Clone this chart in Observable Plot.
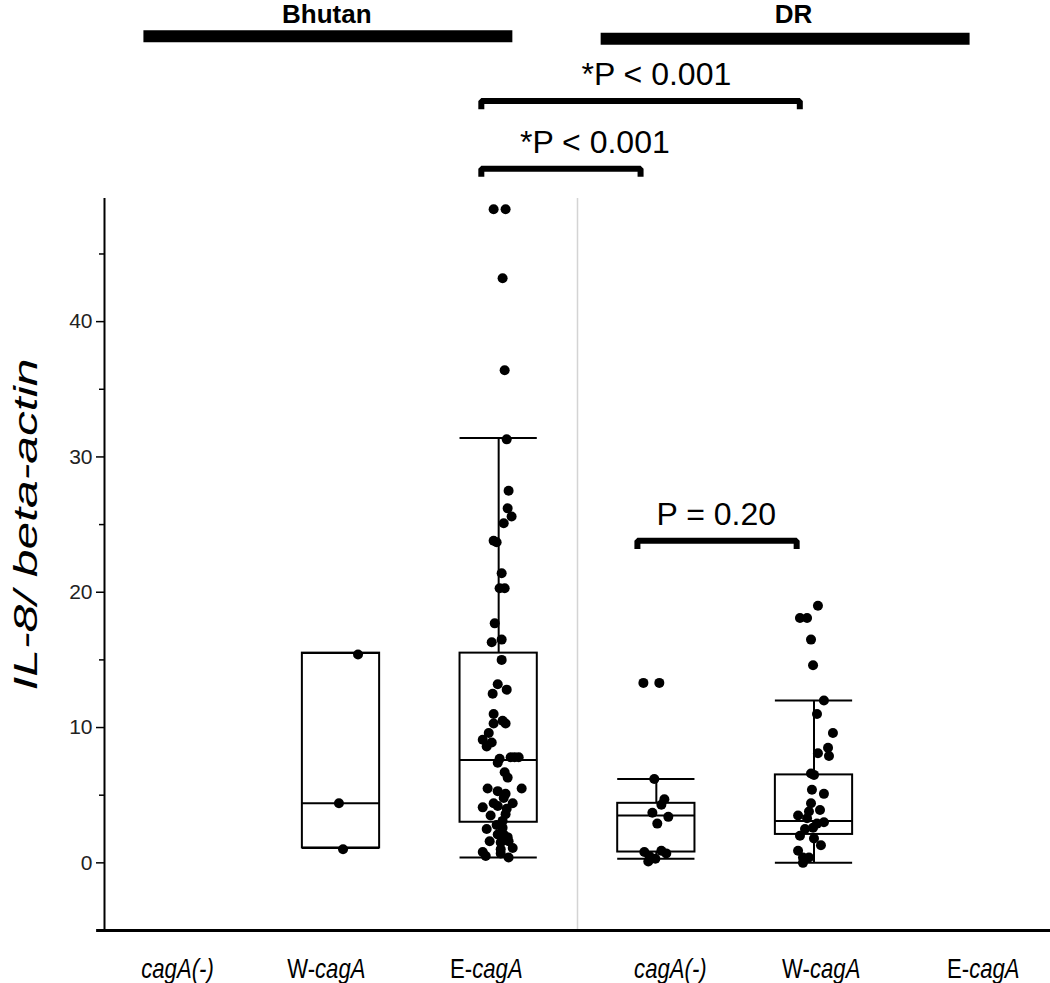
<!DOCTYPE html>
<html><head><meta charset="utf-8">
<script src="https://cdn.jsdelivr.net/npm/d3@7"></script>
<script src="https://cdn.jsdelivr.net/npm/@observablehq/plot@0.6"></script>
<style>body{margin:0;background:#fff} svg{display:block}</style>
</head><body><div id="chart"></div>
<script>
// ---- data ----
const categories = ["cagA(-)", "W-cagA", "E-cagA", "cagA(-)", "W-cagA", "E-cagA"];
const countries = ["Bhutan", "DR"];
const countryFrom = [-0.25, 2.65];
const countryTo = [2.09, 4.99];
const countryLabelX = [0.91, 3.87];
const yTicks = [0, 10, 20, 30, 40];
const yMinorTicks = [5, 15, 25, 35, 45];
const yLabel = "IL-8/ beta-actin";

// box statistics (category index, whisker low, Q1, median, Q3, whisker high)
const boxCategory = [1, 2, 3, 4];
const boxLow = [1.1, 0.4, 0.3, 0.0];
const boxQ1 = [1.1, 3.0, 0.8, 2.1];
const boxMedian = [4.4, 7.6, 3.5, 3.1];
const boxQ3 = [15.5, 15.5, 4.4, 6.5];
const boxHigh = [15.5, 31.4, 6.2, 12.0];

// individual samples: [IL-8/beta-actin, horizontal jitter in category units]
const bhutanW = [[15.4, 0.108], [4.4, -0.013], [1.0, 0.013]];
const bhutanE = [
  [48.3, -0.032], [48.3, 0.044], [43.2, 0.025], [36.4, 0.038], [31.3, 0.051],
  [27.5, 0.063], [26.2, 0.057], [25.6, 0.082], [25.1, 0.032], [23.7, -0.013],
  [23.8, -0.032], [21.4, 0.019], [20.3, 0.006], [20.3, 0.038], [17.7, -0.025],
  [16.5, 0.019], [16.3, -0.044], [15.0, 0.019], [13.2, -0.006], [12.5, -0.038],
  [12.8, 0.051], [11.0, -0.032], [10.5, 0.025], [10.3, 0.044], [10.3, -0.032],
  [9.6, -0.063], [9.1, -0.101], [8.9, -0.044], [8.6, -0.076], [7.7, 0.006],
  [7.4, -0.006], [7.8, 0.076], [7.8, 0.101], [7.8, 0.127], [6.7, 0.038],
  [6.3, 0.057], [5.5, -0.070], [5.3, -0.006], [5.1, 0.044], [5.5, 0.146],
  [4.8, 0.032], [4.4, -0.032], [4.4, 0.089], [4.1, -0.101], [4.2, -0.006],
  [4.0, 0.051], [3.5, -0.051], [3.6, 0.044], [3.1, 0.025], [2.8, -0.013],
  [2.5, -0.076], [2.6, 0.025], [2.1, 0.032], [2.1, -0.006], [1.9, 0.057],
  [1.6, -0.057], [1.5, 0.013], [1.6, 0.063], [1.1, 0.089], [1.0, 0.013],
  [0.8, -0.101], [0.5, -0.082], [0.7, 0.013], [0.4, 0.063]
];
const drNeg = [
  [13.3, -0.082], [13.3, 0.019], [6.2, -0.013], [4.7, 0.051], [4.3, 0.032],
  [3.7, -0.025], [3.4, 0.076], [2.9, 0.006], [0.8, -0.076], [0.5, -0.044],
  [0.1, -0.051], [0.3, -0.006], [0.9, 0.032], [0.7, 0.063]
];
const drW = [
  [19.0, 0.025], [18.1, -0.089], [18.1, -0.044], [16.5, -0.019], [14.6, -0.006],
  [12.0, 0.063], [11.0, 0.019], [9.6, 0.120], [8.5, 0.089], [7.9, 0.095],
  [8.1, 0.025], [6.6, -0.019], [6.5, 0.0], [5.4, -0.013], [5.1, 0.063],
  [4.4, -0.019], [3.8, -0.032], [3.9, 0.038], [3.5, -0.101], [3.3, -0.044],
  [3.0, 0.063], [2.9, 0.019], [2.5, -0.057], [2.6, -0.006], [2.0, -0.089],
  [1.8, 0.0], [1.3, 0.044], [0.9, -0.101], [0.4, -0.070], [0.4, -0.032], [0.0, -0.070]
];

// comparison brackets (from/to in category units, level in y units)
const compFrom = [1.89, 1.89, 2.88];
const compTo = [3.91, 2.90, 3.89];
const compLevel = [56.3, 51.3, 23.8];
const compLabel = ["*P < 0.001", "*P < 0.001", "P = 0.20"];
const compLabelX = [3.0, 2.61, 3.38];

// ---- derived tables ----
const boxes = boxCategory.map((c, i) => ({c, lo: boxLow[i], q1: boxQ1[i], med: boxMedian[i], q3: boxQ3[i], hi: boxHigh[i]}));
const samples = [[1, bhutanW], [2, bhutanE], [3, drNeg], [4, drW]]
  .flatMap(([c, arr]) => arr.map(([v, j]) => ({x: c + j, v})));
const hw = 0.245;
const brackets = compFrom.flatMap((f, i) => [
  {i, x: f, y: compLevel[i] - 0.6}, {i, x: f, y: compLevel[i]},
  {i, x: compTo[i], y: compLevel[i]}, {i, x: compTo[i], y: compLevel[i] - 0.6}
]);
const headers = countries.map((name, i) => ({name, x1: countryFrom[i], x2: countryTo[i], lx: countryLabelX[i]}));
// small layout nudges of the category labels (as in the source figure)
const labelShift = [-0.037, -0.093, -0.078, 0.089, 0.046, 0.074];

const FONT = "'Liberation Sans', Arial, sans-serif";

const chart = Plot.plot({
  width: 1050,
  height: 983,
  marginLeft: 104,
  marginRight: 0,
  marginTop: 198,
  marginBottom: 53,
  style: {fontFamily: FONT, background: "#fff", color: "#000"},
  x: {type: "linear", domain: [-0.5, 5.5], axis: null},
  y: {domain: [-5, 49.1], axis: null},
  marks: [
    Plot.ruleX([2.5], {y1: -5, y2: 49.1, stroke: "#d4d4d4", strokeWidth: 1.5}),
    Plot.axisY({ticks: yMinorTicks, tickSize: 5, tickFormat: () => "", label: null, strokeWidth: 1.5}),
    Plot.axisY({ticks: yTicks, tickSize: 8, tickPadding: 4, fontSize: 21, label: null, strokeWidth: 1.5, fill: "#222"}),
    Plot.ruleX([-0.5], {y1: -5, y2: 49.1, stroke: "#000", strokeWidth: 2}),
    Plot.ruleY([-5], {x1: -0.55, x2: 5.5, stroke: "#000", strokeWidth: 3}),
    Plot.text([yLabel], {x: -0.5, y: 25, dx: -78, rotate: -90, fontSize: 33, fontStyle: "italic", text: d => d}),
    Plot.text(categories, {x: (d, i) => i + labelShift[i], y: -5, dy: 39, fontSize: 27, text: d => d}),
    Plot.ruleX(boxes, {x: "c", y1: "q3", y2: "hi", stroke: "#000", strokeWidth: 2}),
    Plot.ruleX(boxes, {x: "c", y1: "lo", y2: "q1", stroke: "#000", strokeWidth: 2}),
    Plot.ruleY(boxes, {y: "hi", x1: d => d.c - hw, x2: d => d.c + hw, stroke: "#000", strokeWidth: 2}),
    Plot.ruleY(boxes, {y: "lo", x1: d => d.c - hw, x2: d => d.c + hw, stroke: "#000", strokeWidth: 2}),
    Plot.rect(boxes, {x1: d => d.c - hw, x2: d => d.c + hw, y1: "q1", y2: "q3", fill: "none", stroke: "#000", strokeWidth: 2}),
    Plot.ruleY(boxes, {y: "med", x1: d => d.c - hw, x2: d => d.c + hw, stroke: "#000", strokeWidth: 2}),
    Plot.dot(samples, {x: "x", y: "v", r: 5, fill: "#000", stroke: "none"}),
    Plot.ruleY(headers, {y: (d, i) => 61.1 - i * 0.2, x1: "x1", x2: "x2", stroke: "#000", strokeWidth: 12}),
    Plot.text(headers, {x: "lx", y: 62.72, text: "name", fontSize: 26, fontWeight: "bold"}),
    Plot.line(brackets, {x: "x", y: "y", z: "i", stroke: "#000", strokeWidth: 6, strokeLinejoin: "miter", strokeLinecap: "butt"}),
    Plot.text(compLabel, {x: (d, i) => compLabelX[i], y: (d, i) => compLevel[i] + 1.95, text: d => d, fontSize: 32})
  ]
});

document.getElementById("chart").append(chart);

// mixed upright / italic category labels, condensed like the source
d3.select(chart).selectAll("text").each(function () {
  const t = this.textContent;
  if (t === yLabel) {
    this.setAttribute("textLength", 332);
    this.setAttribute("lengthAdjust", "spacingAndGlyphs");
    return;
  }
  if (!categories.includes(t)) return;
  const m = t.match(/^(W-|E-)?(cagA)(.*)$/);
  if (!m) return;
  const sel = d3.select(this);
  sel.text(null);
  if (m[1]) sel.append("tspan").text(m[1]);
  sel.append("tspan").attr("font-style", "italic").text(m[2] + m[3]);
  // horizontal condensing around the text's anchor point
  let tr = this.getAttribute("transform");
  if (!tr) {
    const x = +this.getAttribute("x") || 0, y = +this.getAttribute("y") || 0;
    this.removeAttribute("x"); this.removeAttribute("y");
    tr = `translate(${x},${y})`;
  }
  this.setAttribute("transform", tr + " scale(0.82,1)");
});
</script>
</body></html>
